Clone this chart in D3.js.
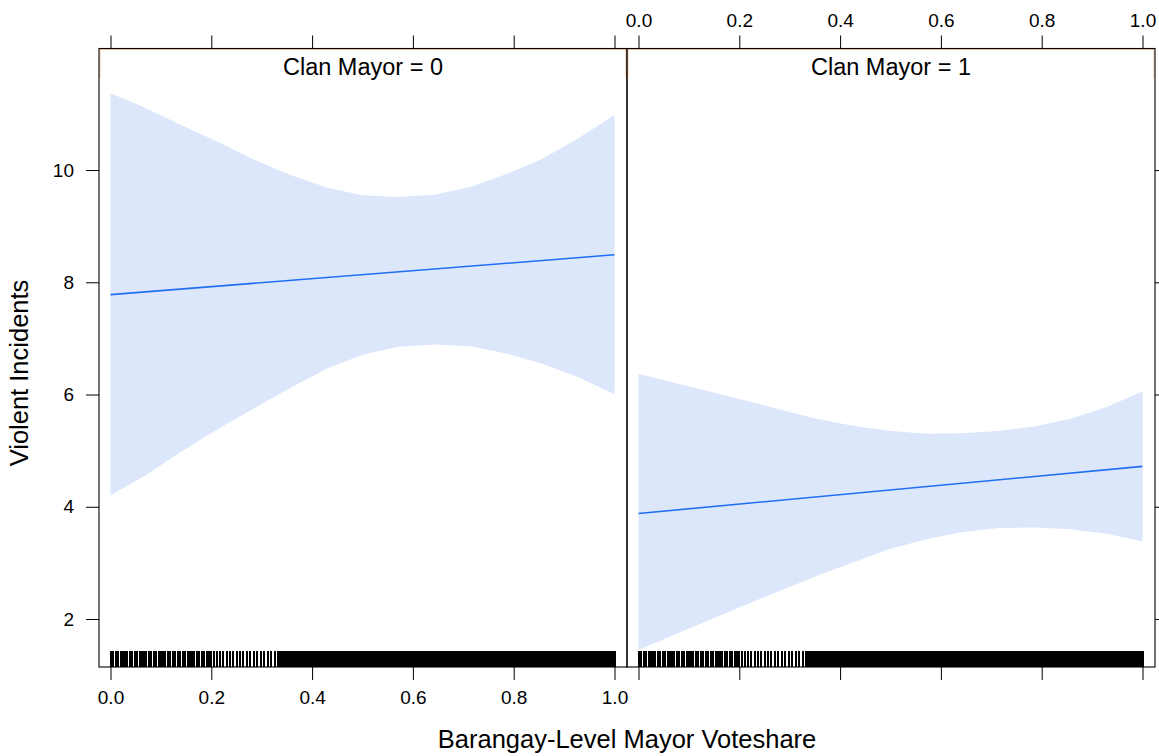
<!DOCTYPE html>
<html>
<head>
<meta charset="utf-8">
<script src="https://cdn.jsdelivr.net/npm/d3@7"></script>
<style>
  html, body { margin: 0; padding: 0; background: #ffffff; }
  text { font-family: "Liberation Sans", Arial, Helvetica, sans-serif; fill: #000; }
</style>
</head>
<body>
<script>
// ---------------- data ----------------
const panelLabels = ["Clan Mayor = 0", "Clan Mayor = 1"];
const xTicks = [0, 0.2, 0.4, 0.6, 0.8, 1.0];
const yTicks = [2, 4, 6, 8, 10];
const xTitle = "Barangay-Level Mayor Voteshare";
const yTitle = "Violent Incidents";

// grid of voteshare values at which the confidence band is evaluated
const xGrid = [0, 0.071, 0.143, 0.214, 0.286, 0.357, 0.429, 0.5, 0.571, 0.643, 0.714, 0.786, 0.857, 0.929, 1];
const upper0 = [11.37, 11.10, 10.79, 10.50, 10.18, 9.91, 9.69, 9.55, 9.52, 9.56, 9.70, 9.93, 10.20, 10.57, 10.98];
const lower0 = [4.20, 4.57, 5.00, 5.39, 5.76, 6.12, 6.46, 6.71, 6.85, 6.89, 6.86, 6.73, 6.55, 6.31, 6.00];
const upper1 = [6.37, 6.21, 6.05, 5.89, 5.72, 5.56, 5.44, 5.35, 5.30, 5.31, 5.35, 5.43, 5.57, 5.78, 6.06];
const lower1 = [1.45, 1.72, 1.99, 2.26, 2.52, 2.78, 3.02, 3.25, 3.42, 3.55, 3.62, 3.63, 3.60, 3.52, 3.38];

// fitted line end points
const fitX = [0, 1];
const fit0 = [7.78, 8.49];
const fit1 = [3.88, 4.72];

// rug: observed voteshare values
const rugValues = [
  0.001,0.005,0.010,0.014,0.020,0.024,0.029,0.033,0.039,0.043,0.048,0.052,0.058,0.062,0.067,0.071,0.077,0.081,0.086,0.090,
  0.096,0.100,0.105,0.109,0.115,0.119,0.124,0.128,0.134,0.138,0.143,0.147,0.153,0.157,0.162,0.166,0.172,0.176,0.181,0.185,
  0.191,0.195,0.199,
  0.205,0.211,0.218,0.224,0.231,0.237,0.244,0.250,0.257,0.263,0.270,0.277,0.284,0.291,0.298,0.305,0.312,0.319,0.326,0.333,0.337,
  0.340,0.342,0.345,0.347,0.350,0.352,0.355,0.357,0.360,0.362,0.365,0.367,0.370,0.372,0.375,0.377,0.380,0.382,0.385,0.387,0.390,0.392,0.395,0.397,
  0.400,0.402,0.405,0.407,0.410,0.412,0.415,0.417,0.420,0.422,0.425,0.427,0.430,0.432,0.435,0.437,0.440,0.442,0.445,0.447,
  0.450,0.452,0.455,0.457,0.460,0.462,0.465,0.467,0.470,0.472,0.475,0.477,0.480,0.482,0.485,0.487,0.490,0.492,0.495,0.497,
  0.500,0.502,0.505,0.507,0.510,0.512,0.515,0.517,0.520,0.522,0.525,0.527,0.530,0.532,0.535,0.537,0.540,0.542,0.545,0.547,
  0.550,0.552,0.555,0.557,0.560,0.562,0.565,0.567,0.570,0.572,0.575,0.577,0.580,0.582,0.585,0.587,0.590,0.592,0.595,0.597,
  0.600,0.602,0.605,0.607,0.610,0.612,0.615,0.617,0.620,0.622,0.625,0.627,0.630,0.632,0.635,0.637,0.640,0.642,0.645,0.647,
  0.650,0.652,0.655,0.657,0.660,0.662,0.665,0.667,0.670,0.672,0.675,0.677,0.680,0.682,0.685,0.687,0.690,0.692,0.695,0.697,
  0.700,0.702,0.705,0.707,0.710,0.712,0.715,0.717,0.720,0.722,0.725,0.727,0.730,0.732,0.735,0.737,0.740,0.742,0.745,0.747,
  0.750,0.752,0.755,0.757,0.760,0.762,0.765,0.767,0.770,0.772,0.775,0.777,0.780,0.782,0.785,0.787,0.790,0.792,0.795,0.797,
  0.800,0.802,0.805,0.807,0.810,0.812,0.815,0.817,0.820,0.822,0.825,0.827,0.830,0.832,0.835,0.837,0.840,0.842,0.845,0.847,
  0.850,0.852,0.855,0.857,0.860,0.862,0.865,0.867,0.870,0.872,0.875,0.877,0.880,0.882,0.885,0.887,0.890,0.892,0.895,0.897,
  0.900,0.902,0.905,0.907,0.910,0.912,0.915,0.917,0.920,0.922,0.925,0.927,0.930,0.932,0.935,0.937,0.940,0.942,0.945,0.947,
  0.950,0.952,0.955,0.957,0.960,0.962,0.965,0.967,0.970,0.972,0.975,0.977,0.980,0.982,0.985,0.987,0.990,0.992,0.995,0.997,1.000
];

// ---------------- drawing ----------------
const W = 1159, H = 756;
const svg = d3.select("body").append("svg").attr("width", W).attr("height", H);

const panelW = 528, panelTop = 48.5, stripBottom = 78, panelBottom = 667;
const panels = [
  { left: 99,  upper: upper0, lower: lower0, fit: fit0, label: panelLabels[0], first: true },
  { left: 627, upper: upper1, lower: lower1, fit: fit1, label: panelLabels[1], first: false }
];

const y = d3.scaleLinear().domain([1.145, 11.64]).range([panelBottom, stripBottom]);
const bandColor = "#dce7fc";
const lineColor = "#1f6ff2";
const stripBorder = "#f6c79b";
const tickFont = 19;

panels.forEach((p, i) => {
  const x = d3.scaleLinear().domain([0, 1]).range([p.left + 11.5, p.left + 515.5]);
  const g = svg.append("g");

  const band = xGrid.map((v, k) => ({ x: v, lo: p.lower[k], hi: p.upper[k] }));
  g.append("path")
    .datum(band)
    .attr("fill", bandColor)
    .attr("d", d3.area().x(d => x(d.x)).y0(d => y(d.lo)).y1(d => y(d.hi)));

  g.append("path")
    .datum(fitX.map((v, k) => ({ x: v, y: p.fit[k] })))
    .attr("fill", "none")
    .attr("stroke", lineColor)
    .attr("stroke-width", 1.6)
    .attr("d", d3.line().x(d => x(d.x)).y(d => y(d.y)));

  // rug
  g.append("g").attr("shape-rendering", "crispEdges")
    .selectAll("line").data(rugValues).join("line")
    .attr("x1", d => x(d)).attr("x2", d => x(d))
    .attr("y1", panelBottom).attr("y2", panelBottom - 16)
    .attr("stroke", "#000").attr("stroke-width", 2);

  // strip (border on top and sides only)
  const sx0 = p.left + 1, sx1 = p.left + panelW - 1, sy0 = panelTop + 1;
  g.append("path")
    .attr("d", `M${sx0},${stripBottom}V${sy0}H${sx1}V${stripBottom}`)
    .attr("fill", "none").attr("stroke", stripBorder).attr("stroke-width", 1);
  g.append("text")
    .attr("x", p.left + panelW / 2).attr("y", 75)
    .attr("text-anchor", "middle")
    .attr("font-size", 23.5)
    .text(p.label);

  // border
  g.append("rect")
    .attr("x", p.left).attr("y", panelTop)
    .attr("width", panelW).attr("height", panelBottom - panelTop)
    .attr("fill", "none").attr("stroke", "#000").attr("stroke-width", 1.1);

  // bottom axis
  const bAxis = d3.axisBottom(x).tickValues(xTicks).tickSize(13).tickPadding(10.5)
    .tickFormat(p.first ? d3.format(".1f") : () => "");
  const bg = svg.append("g").attr("transform", `translate(0,${panelBottom})`).call(bAxis);
  // top axis
  const tAxis = d3.axisTop(x).tickValues(xTicks).tickSize(13).tickPadding(9)
    .tickFormat(p.first ? () => "" : d3.format(".1f"));
  const tg = svg.append("g").attr("transform", `translate(0,${panelTop})`).call(tAxis);
  [bg, tg].forEach(a => {
    a.select(".domain").remove();
    a.selectAll("line").attr("stroke", "#000");
    a.selectAll("text").attr("font-size", tickFont).attr("font-family", null).attr("fill", "#000");
  });
});

// y axes
const yl = svg.append("g").attr("transform", "translate(99,0)")
  .call(d3.axisLeft(y).tickValues(yTicks).tickSize(13).tickPadding(12).tickFormat(d3.format("d")));
const yr = svg.append("g").attr("transform", "translate(1155,0)")
  .call(d3.axisRight(y).tickValues(yTicks).tickSize(13).tickFormat(() => ""));
[yl, yr].forEach(a => {
  a.select(".domain").remove();
  a.selectAll("line").attr("stroke", "#000");
  a.selectAll("text").attr("font-size", tickFont).attr("font-family", null).attr("fill", "#000");
});

// titles
svg.append("text")
  .attr("x", 627).attr("y", 748)
  .attr("text-anchor", "middle")
  .attr("font-size", 25.5)
  .text(xTitle);
svg.append("text")
  .attr("transform", "translate(28,373) rotate(-90)")
  .attr("text-anchor", "middle")
  .attr("font-size", 25.5)
  .text(yTitle);
</script>
</body>
</html>
